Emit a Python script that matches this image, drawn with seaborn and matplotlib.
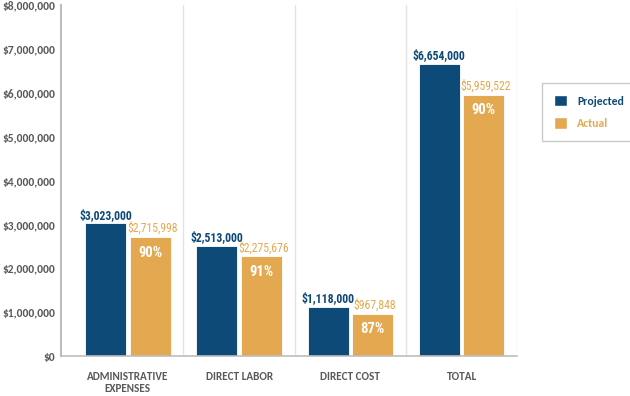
import pandas as pd
import seaborn as sns
import matplotlib.pyplot as plt
from matplotlib.patches import Patch
from matplotlib.ticker import FuncFormatter

# data
categories = ["ADMINISTRATIVE\nEXPENSES", "DIRECT LABOR", "DIRECT COST", "TOTAL"]
projected = [3023000, 2513000, 1118000, 6654000]
actual = [2715998, 2275676, 967848, 5959522]
percent = ["90%", "91%", "87%", "90%"]

blue = "#0E4A78"
orange = "#E4A950"
gray = "#595959"

data = pd.DataFrame({
    "Category": categories * 2,
    "Amount": projected + actual,
    "Series": ["Projected"] * 4 + ["Actual"] * 4,
})

sns.set_style("white")
narrow = ["Roboto Condensed", "DejaVu Sans"]
plt.rcParams["font.family"] = ["Carlito", "DejaVu Sans"]

fig = plt.figure(figsize=(6.3, 3.96), dpi=100)
ax = fig.add_axes([0.097, 0.101, 0.724, 0.886])

sns.barplot(data=data, x="Category", y="Amount", hue="Series",
            palette={"Projected": blue, "Actual": orange}, saturation=1,
            width=0.8, gap=0.08, edgecolor="white", linewidth=0.6,
            legend=False, ax=ax)

ax.set_xlim(-0.6, 3.5)
ax.set_ylim(0, 8000000)
ax.set_yticks(range(0, 8000001, 1000000))
ax.yaxis.set_major_formatter(FuncFormatter(lambda v, p: "${:,.0f}".format(v)))
ax.set_xlabel("")
ax.set_ylabel("")

# category separators
for xv in [0.5, 1.5, 2.5, 3.5]:
    ax.axvline(xv, color="#E3E3E3", lw=1, zorder=0)

for s in ["top", "right"]:
    ax.spines[s].set_visible(False)
ax.spines["left"].set_color("#BDBDBD")
ax.spines["left"].set_linewidth(1.5)
ax.spines["bottom"].set_color("#BDBDBD")
ax.spines["bottom"].set_linewidth(1.2)

ax.tick_params(axis="y", direction="in", length=10, width=1.5, color="#BDBDBD",
               labelsize=8.3, labelcolor=gray, pad=4)
ax.tick_params(axis="x", length=0, labelsize=8, labelcolor=gray, pad=11)
for lab in ax.get_yticklabels():
    lab.set_fontweight("bold")
for lab in ax.get_xticklabels():
    lab.set_fontweight("bold")
    lab.set_linespacing(1.1)

# value labels
proj_bars = ax.patches[:4]
act_bars = ax.patches[4:8]
for i in range(4):
    pb = proj_bars[i]
    ab = act_bars[i]
    ax.text(pb.get_x() + pb.get_width() / 2, pb.get_height() + 40000,
            "${:,.0f}".format(projected[i]), ha="center", va="bottom",
            color=blue, fontsize=8.5, fontweight="bold", family=narrow)
    ax.text(ab.get_x() + ab.get_width() / 2 + 0.02, ab.get_height() + 40000,
            "${:,.0f}".format(actual[i]), ha="center", va="bottom",
            color=orange, fontsize=8.5, family=narrow)
    ax.text(ab.get_x() + ab.get_width() / 2, ab.get_height() - 200000,
            percent[i], ha="center", va="top",
            color="white", fontsize=10.5, fontweight="bold", family=narrow)

handles = [Patch(facecolor=blue, edgecolor="white"), Patch(facecolor=orange, edgecolor="white")]
leg = fig.legend(handles, ["Projected", "Actual"], loc="upper left",
                 bbox_to_anchor=(0.851, 0.805), frameon=True, fancybox=False,
                 handlelength=1.1, handleheight=1.1, borderpad=1.0,
                 labelspacing=0.9, handletextpad=0.9, fontsize=8.5)
leg.get_frame().set_edgecolor("#BDBDBD")
for t, c in zip(leg.get_texts(), [blue, orange]):
    t.set_color(c)
    t.set_fontweight("bold")

fig.savefig("out.png", dpi=100)
